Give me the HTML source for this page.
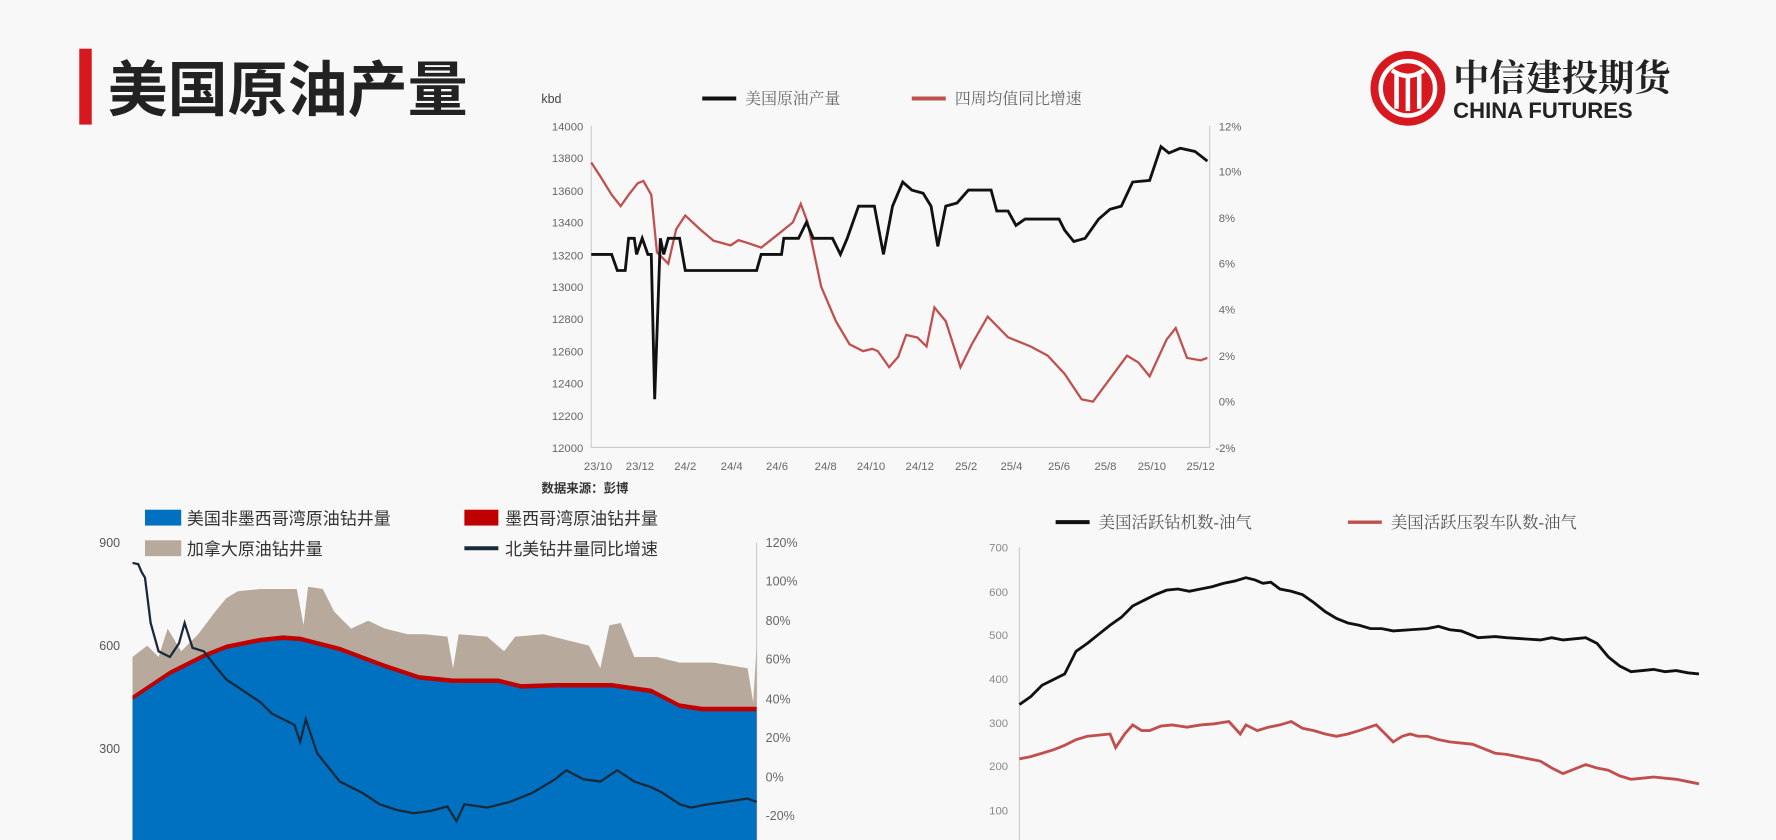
<!DOCTYPE html>
<html><head><meta charset="utf-8"><style>
html,body{margin:0;padding:0;background:#f8f8f8;}
svg{display:block}
text{font-family:"Liberation Sans","Noto Sans CJK SC",sans-serif;}
.s{font-family:"Liberation Serif","Noto Serif CJK SC",serif;}
</style></head><body>
<svg width="1776" height="840" viewBox="0 0 1568 741.6" preserveAspectRatio="none" xmlns="http://www.w3.org/2000/svg">
<rect width="1568" height="742" fill="#f8f8f8"/>
<rect x="70" y="43" width="11" height="67" fill="#d7191f"/>
<text x="95" y="98" font-size="53" font-weight="bold" fill="#222">美国原油产量</text>
<circle cx="1243" cy="78" r="33" fill="#d7191f"/>
<circle cx="1243" cy="78" r="24" fill="none" stroke="#fff" stroke-width="4"/>
<path d="M1229 62 Q1243 72 1257 62 M1233 66 V96 M1243 68 V98 M1253 66 V96" stroke="#fff" stroke-width="4" fill="none"/>
<text x="1283" y="80" font-size="32" font-weight="bold" fill="#222" class="s">中信建投期货</text>
<text x="1283" y="104" font-size="19.5" font-weight="bold" fill="#222">CHINA FUTURES</text>

<text x="478" y="91" font-size="11" fill="#444">kbd</text>
<line x1="620" y1="87" x2="650" y2="87" stroke="#111" stroke-width="3.5"/>
<text x="658" y="92" font-size="14" fill="#666" class="s">美国原油产量</text>
<line x1="805" y1="87" x2="835" y2="87" stroke="#c0504d" stroke-width="3.5"/>
<text x="843" y="92" font-size="14" fill="#666" class="s">四周均值同比增速</text>
<g font-size="10" fill="#666" text-anchor="end">
<text x="515" y="115">14000</text><text x="515" y="143">13800</text><text x="515" y="172">13600</text><text x="515" y="200">13400</text><text x="515" y="229">13200</text><text x="515" y="257">13000</text><text x="515" y="285">12800</text><text x="515" y="314">12600</text><text x="515" y="342">12400</text><text x="515" y="371">12200</text><text x="515" y="399">12000</text>
</g>
<g font-size="10" fill="#666">
<text x="1076" y="115">12%</text><text x="1076" y="155">10%</text><text x="1076" y="196">8%</text><text x="1076" y="236">6%</text><text x="1076" y="277">4%</text><text x="1076" y="318">2%</text><text x="1076" y="358">0%</text><text x="1073" y="399">-2%</text>
</g>
<path d="M522 111 V395 H1068 V111" fill="none" stroke="#ccc" stroke-width="1"/>
<g font-size="10" fill="#666" text-anchor="middle">
<text x="528" y="415">23/10</text><text x="565" y="415">23/12</text><text x="605" y="415">24/2</text><text x="646" y="415">24/4</text><text x="686" y="415">24/6</text><text x="729" y="415">24/8</text><text x="769" y="415">24/10</text><text x="812" y="415">24/12</text><text x="853" y="415">25/2</text><text x="893" y="415">25/4</text><text x="935" y="415">25/6</text><text x="976" y="415">25/8</text><text x="1017" y="415">25/10</text><text x="1060" y="415">25/12</text>
</g>
<text x="478" y="435" font-size="11" font-weight="bold" fill="#333">数据来源：彭博</text>
<polyline fill="none" stroke="#c0504d" stroke-width="2" points="522,143.5 530,155.7 540,171.9 548,182 555,172 563,161.8 568,159.7 575,172 580,222.7 590,232.8 597,202.4 605,190.2 618,202.4 630,212.5 645,216.6 652,212 660,214.5 672,218.6 685,208.4 700,196.3 707,180 713,196.3 725,253.1 738,283.6 750,303.9 762,310 770,308 775,310 785,324.2 793,315 800,295.7 810,298 818,305.9 825,271.4 835,283.6 848,324.2 858,303.9 872,279.5 890,297.8 910,305.9 925,314 940,330.2 955,352.6 965,354.6 980,334.3 995,314 1005,320 1015,332.3 1030,299.8 1038,289.6 1048,316 1060,318.1 1066,316"/>
<polyline fill="none" stroke="#111" stroke-width="2.5" points="522,224.6 540,224.6 545,238.8 552,238.8 555,210.4 560,210.4 562,224.6 567,210.4 572,224.6 575,224.6 578,352.4 583,210.4 586,224.6 590,210.4 600,210.4 605,238.8 668,238.8 672,224.6 690,224.6 692,210.4 705,210.4 712,196.2 718,210.4 735,210.4 742,224.6 748,210.4 758,182 772,182 780,224.6 788,182 797,160.7 805,167.8 815,170.6 822,182 828,217.5 835,182 845,179.2 855,167.8 875,167.8 880,186.3 890,186.3 897,199 905,193.4 935,193.4 940,203.3 948,213.2 958,210.4 970,193.4 980,184.8 990,182 1000,160.7 1015,159.3 1025,129.5 1032,135.1 1042,130.9 1055,133.7 1066,142.2"/>

<g class="s" font-size="15" fill="#333">
<rect x="128" y="450" width="32" height="14" fill="#0070c0"/><text x="165" y="463">美国非墨西哥湾原油钻井量</text>
<rect x="410" y="450" width="30" height="14" fill="#c00000"/><text x="446" y="463">墨西哥湾原油钻井量</text>
<rect x="128" y="477" width="32" height="14" fill="#b7a99c"/><text x="165" y="490">加拿大原油钻井量</text>
<line x1="410" y1="484" x2="440" y2="484" stroke="#17293b" stroke-width="3.5"/><text x="446" y="490">北美钻井量同比增速</text>
</g>
<g class="s" font-size="11" fill="#555" text-anchor="end">
<text x="106" y="483">900</text><text x="106" y="574">600</text><text x="106" y="665">300</text>
</g>
<g font-size="11" fill="#666">
<text x="676" y="483">120%</text><text x="676" y="517">100%</text><text x="676" y="552">80%</text><text x="676" y="586">60%</text><text x="676" y="621">40%</text><text x="676" y="655">20%</text><text x="676" y="690">0%</text><text x="676" y="724">-20%</text>
</g>
<line x1="668" y1="479" x2="668" y2="742" stroke="#ccc"/>
<polygon fill="#b7a99c" points="117,580 130,570 140,580 148,555 160,575 175,560 190,540 200,528 210,522 230,520 262,520 268,552 272,518 285,520 295,540 310,555 325,548 340,555 360,560 375,560 395,562 400,590 405,560 430,562 445,575 455,562 480,560 500,565 520,570 530,590 538,552 548,550 560,580 580,580 600,585 630,585 660,590 665,620 668,570 668,742 117,742"/>
<polygon fill="#c00000" points="117,614 150,592 180,577 200,569 230,563 250,561 265,562 300,571 340,586 370,596 400,599 440,599 460,604 490,603 540,603 575,608 600,621 620,624 668,624 668,742 117,742"/>
<polygon fill="#0070c0" points="117,618 150,596 180,581 200,573 230,567 250,565 265,566 300,575 340,590 370,600 400,603 440,603 460,608 490,607 540,607 575,612 600,625 620,628 668,628 668,742 117,742"/>
<polyline fill="none" stroke="#17293b" stroke-width="2" points="117,497 122,498 125,505 128,510 133,550 140,575 150,580 158,568 163,550 170,572 180,575 190,588 200,600 215,610 230,620 240,630 260,640 265,655 270,635 280,665 300,690 320,700 335,710 350,715 365,718 380,716 395,712 403,725 410,710 430,713 450,708 470,700 490,688 500,680 515,688 530,690 545,680 560,690 575,695 585,700 600,710 610,713 625,710 640,708 660,705 668,708"/>

<line x1="932" y1="461" x2="962" y2="461" stroke="#111" stroke-width="3.5"/>
<text x="970" y="466" font-size="14.5" fill="#555" class="s">美国活跃钻机数-油气</text>
<line x1="1190" y1="461" x2="1220" y2="461" stroke="#c0504d" stroke-width="3"/>
<text x="1228" y="466" font-size="14.5" fill="#555" class="s">美国活跃压裂车队数-油气</text>
<g font-size="10" fill="#888" text-anchor="end">
<text x="890" y="487">700</text><text x="890" y="526">600</text><text x="890" y="564">500</text><text x="890" y="603">400</text><text x="890" y="642">300</text><text x="890" y="680">200</text><text x="890" y="719">100</text>
</g>
<line x1="900" y1="483" x2="900" y2="742" stroke="#ccc"/>
<polyline fill="none" stroke="#111" stroke-width="2.5" points="900,622 910,615 920,605 930,600 940,595 950,575 960,568 970,560 980,552 990,545 1000,535 1010,530 1020,525 1030,521 1040,520 1050,522 1060,520 1070,518 1080,515 1090,513 1100,510 1108,512 1115,515 1122,514 1130,520 1140,522 1150,525 1160,532 1170,540 1180,546 1190,550 1200,552 1210,555 1220,555 1230,557 1245,556 1260,555 1270,553 1280,556 1290,557 1305,563 1320,562 1330,563 1345,564 1360,565 1370,563 1380,565 1390,564 1400,563 1410,568 1420,580 1430,588 1440,593 1450,592 1460,591 1470,593 1480,592 1490,594 1500,595"/>
<polyline fill="none" stroke="#c0504d" stroke-width="2.5" points="900,670 910,668 920,665 930,662 940,658 950,653 960,650 970,649 980,648 985,660 993,648 1000,640 1008,645 1015,645 1025,641 1035,640 1048,642 1060,640 1072,639 1085,637 1095,648 1100,640 1110,645 1120,642 1130,640 1140,637 1150,643 1160,645 1170,648 1180,650 1190,648 1200,645 1215,640 1230,655 1238,650 1245,648 1252,650 1260,650 1270,653 1280,655 1290,656 1300,657 1310,661 1320,665 1330,666 1340,668 1350,670 1360,672 1370,678 1380,683 1390,679 1400,675 1410,678 1420,680 1430,685 1440,688 1450,687 1460,686 1470,687 1480,688 1490,690 1500,692"/>
</svg>
</body></html>
